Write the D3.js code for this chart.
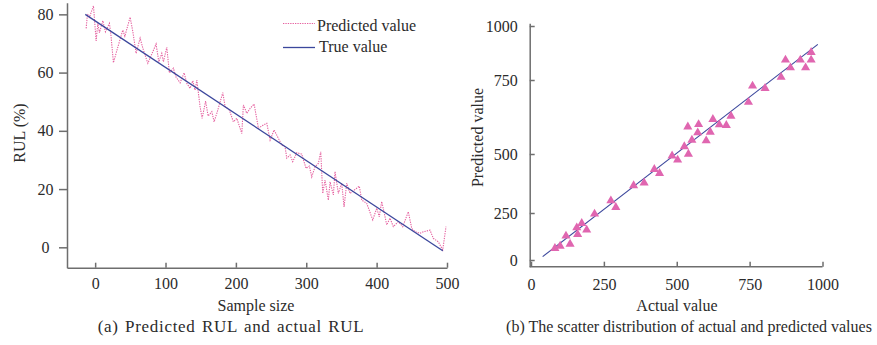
<!DOCTYPE html>
<html>
<head>
<meta charset="utf-8">
<script src="https://cdn.jsdelivr.net/npm/d3@7/dist/d3.min.js"></script>
<style>
body { margin: 0; background: #fff; }
svg text { font-family: "Liberation Serif", "Times New Roman", "DejaVu Serif", serif; }
</style>
</head>
<body>
<svg id="chart" width="877" height="345" font-family="Liberation Serif, serif"></svg>
<script>
// (a) predicted vs true RUL
var sampleTicks = [0, 100, 200, 300, 400, 500];
var rulTicks = [0, 20, 40, 60, 80];
var trueX = [-14, 494];
var trueY = [80, -1.2];
var predX = [-12.8, -10.9, -8.1, -2.4, 1.4, 3.8, 6.1, 10.9, 14.6, 20.3,
    22.3, 26.0, 31.7, 39.3, 42.2, 49.7, 53.6, 58.2, 63.9, 68.6,
    74.9, 86.6, 90.5, 94.7, 97.0, 101.8, 105.5, 111.2, 115.1, 120.7,
    126.4, 130.3, 134.9, 138.8, 142.0, 144.5, 149.1, 152.0, 157.0, 160.5,
    165.8, 169.0, 172.9, 181.4, 184.7, 190.8, 196.4, 201.3, 208.4, 210.7,
    215.5, 220.2, 225.9, 232.0, 239.1, 243.9, 248.6, 254.3, 260.4, 265.2,
    269.9, 272.3, 277.0, 280.8, 286.5, 293.6, 299.7, 304.4, 307.8, 312.5,
    317.2, 320.6, 323.4, 326.7, 331.4, 333.8, 338.5, 340.9, 345.6, 350.4,
    353.7, 357.5, 362.2, 375.4, 378.8, 385.9, 394.5, 400.1, 403.8, 407.2,
    410.5, 414.3, 419.0, 423.7, 430.8, 437.1, 445.0, 449.9, 454.5, 461.6,
    467.3, 475.9, 480.5, 487.6, 493.9, 498.6];
var predY = [75.2, 80.1, 79.0, 82.9, 70.9, 76.9, 73.7, 77.8, 74.0, 76.9,
    73.2, 63.4, 68.3, 74.6, 72.5, 79.0, 74.0, 66.6, 71.8, 67.7,
    63.2, 69.8, 63.7, 66.6, 63.7, 68.7, 59.9, 61.5, 58.4, 56.5,
    59.9, 56.3, 54.6, 57.2, 54.0, 57.4, 48.3, 44.3, 50.2, 45.1,
    46.6, 43.1, 46.0, 53.1, 48.3, 47.1, 43.1, 44.3, 39.1, 48.9,
    46.0, 47.7, 49.2, 40.9, 42.0, 42.6, 36.8, 40.3, 37.4, 35.1,
    34.5, 30.6, 31.7, 29.4, 32.5, 32.0, 27.1, 27.9, 24.2, 27.7,
    28.8, 32.8, 18.5, 23.1, 16.2, 22.5, 18.0, 26.0, 18.5, 22.0,
    13.9, 22.0, 18.5, 21.0, 16.2, 15.1, 9.4, 13.4, 10.5, 15.7,
    12.2, 7.7, 10.0, 7.1, 8.8, 7.1, 12.2, 6.5, 5.4, 4.8,
    5.4, 5.9, 3.1, 1.9, -0.9, 7.1];

// (b) actual vs predicted scatter
var scatterTicks = [0, 250, 500, 750, 1000];
var actualVals = [82, 100, 134, 120, 160, 157, 191, 174, 218, 274,
    291, 352, 388, 423, 441, 484, 503, 540, 526, 552,
    601, 572, 538, 575, 615, 624, 646, 670, 686, 746,
    760, 803, 858, 873, 890, 924, 942, 961, 961];
var predictedVals = [62, 74, 85, 128, 137, 172, 160, 195, 245, 302,
    274, 366, 378, 435, 418, 492, 475, 500, 525, 547,
    545, 572, 592, 600, 574, 617, 599, 597, 628, 675,
    730, 722, 763, 843, 807, 843, 807, 878, 843];
var fitX = [40, 984];
var fitY = [18, 915];

var svg = d3.select('#chart');
var axisColor = '#6e6e6e',
    textColor = '#2b2b2b',
    pink = '#e5609f',
    navy = '#3b479c';

function styleAxis(g) {
    g.attr('font-family', null).attr('font-size', 16).attr('color', axisColor);
    g.selectAll('path, line').attr('stroke-width', 1.5);
    g.selectAll('text').attr('fill', textColor);
}

/* ---------- chart (a) ---------- */
var xA = d3.scaleLinear().domain([-40, 500]).range([67, 447]);
var yA = d3.scaleLinear().domain([-7, 84]).range([267.7, 2.7]);

svg.append('g')
    .attr('transform', 'translate(0,' + yA(-7) + ')')
    .call(d3.axisBottom(xA).tickValues(sampleTicks).tickSize(-5).tickSizeOuter(0).tickPadding(10))
    .call(styleAxis);

svg.append('g')
    .attr('transform', 'translate(' + xA(-40) + ',0)')
    .call(d3.axisLeft(yA).tickValues(rulTicks).tickSize(8).tickSizeOuter(0))
    .call(styleAxis)
    .call(function(g) {
        g.selectAll('text').attr('text-anchor', 'middle').attr('x', -21.5);
    });

var lineA = d3.line()
    .x(function(d) { return xA(d[0]); })
    .y(function(d) { return yA(d[1]); });

svg.append('path')
    .datum(d3.zip(predX, predY))
    .attr('d', lineA)
    .attr('fill', 'none')
    .attr('stroke', pink)
    .attr('stroke-width', 1.1)
    .attr('stroke-dasharray', '1.3,1.1');

svg.append('path')
    .datum(d3.zip(trueX, trueY))
    .attr('d', lineA)
    .attr('fill', 'none')
    .attr('stroke', navy)
    .attr('stroke-width', 1.3);

// legend
var legend = svg.append('g');
legend.append('line')
    .attr('x1', 283).attr('x2', 315).attr('y1', 23.5).attr('y2', 23.5)
    .attr('stroke', pink).attr('stroke-width', 1.1).attr('stroke-dasharray', '1.3,1.1');
legend.append('line')
    .attr('x1', 283).attr('x2', 315).attr('y1', 47.5).attr('y2', 47.5)
    .attr('stroke', navy).attr('stroke-width', 1.3);
legend.append('text').attr('x', 317).attr('y', 31).attr('font-size', 16).attr('fill', textColor)
    .text('Predicted value');
legend.append('text').attr('x', 319).attr('y', 52).attr('font-size', 16).attr('fill', textColor)
    .text('True value');

svg.append('text')
    .attr('transform', 'translate(24.5,133) rotate(-90)')
    .attr('text-anchor', 'middle').attr('font-size', 16).attr('fill', textColor)
    .text('RUL (%)');
svg.append('text')
    .attr('x', 256).attr('y', 311)
    .attr('text-anchor', 'middle').attr('font-size', 16).attr('fill', textColor)
    .text('Sample size');
svg.append('text')
    .attr('x', 231).attr('y', 332)
    .attr('text-anchor', 'middle').attr('font-size', 17).attr('fill', textColor)
    .attr('letter-spacing', 0.7).attr('word-spacing', 1.5)
    .text('(a) Predicted RUL and actual RUL');

/* ---------- chart (b) ---------- */
var xB = d3.scaleLinear().domain([0, 1000]).range([531, 822.5]);
// the printed axis is not evenly spaced, so follow its tick positions
var yB = d3.scaleLinear()
    .domain([-36, 0, 250, 500, 750, 1000, 1012])
    .range([266.7, 260, 213, 154, 80, 26, 23.3]);

svg.append('g')
    .attr('transform', 'translate(0,' + yB(-36) + ')')
    .call(d3.axisBottom(xB).tickValues(scatterTicks).tickFormat(d3.format('d'))
        .tickSize(-5).tickSizeOuter(0).tickPadding(12))
    .call(styleAxis)
    .call(function(g) {
        g.select('.domain').attr('d', 'M' + (xB(0) - 1.3) + ',0H' + xB(1000));
    });

svg.append('g')
    .attr('transform', 'translate(529.7,0)')
    .call(d3.axisLeft(yB).tickValues(scatterTicks).tickFormat(d3.format('d'))
        .tickSize(-5).tickSizeOuter(0).tickPadding(12))
    .call(styleAxis);

svg.append('path')
    .datum(d3.zip(fitX, fitY))
    .attr('d', d3.line()
        .x(function(d) { return xB(d[0]); })
        .y(function(d) { return yB(d[1]); }))
    .attr('fill', 'none')
    .attr('stroke', navy)
    .attr('stroke-width', 1.1);

svg.append('g')
    .selectAll('path')
    .data(d3.zip(actualVals, predictedVals))
    .enter()
    .append('path')
    .attr('transform', function(d) {
        return 'translate(' + xB(d[0]) + ',' + yB(d[1]) + ')';
    })
    .attr('d', d3.symbol().type(d3.symbolTriangle).size(36))
    .attr('fill', '#e066b0');

svg.append('text')
    .attr('transform', 'translate(482.5,137.5) rotate(-90)')
    .attr('text-anchor', 'middle').attr('font-size', 16).attr('fill', textColor)
    .text('Predicted value');
svg.append('text')
    .attr('x', 677).attr('y', 311)
    .attr('text-anchor', 'middle').attr('font-size', 16).attr('fill', textColor)
    .text('Actual value');
svg.append('text')
    .attr('x', 689).attr('y', 332)
    .attr('text-anchor', 'middle').attr('font-size', 16).attr('fill', textColor)
    .text('(b) The scatter distribution of actual and predicted values');
</script>
</body>
</html>
